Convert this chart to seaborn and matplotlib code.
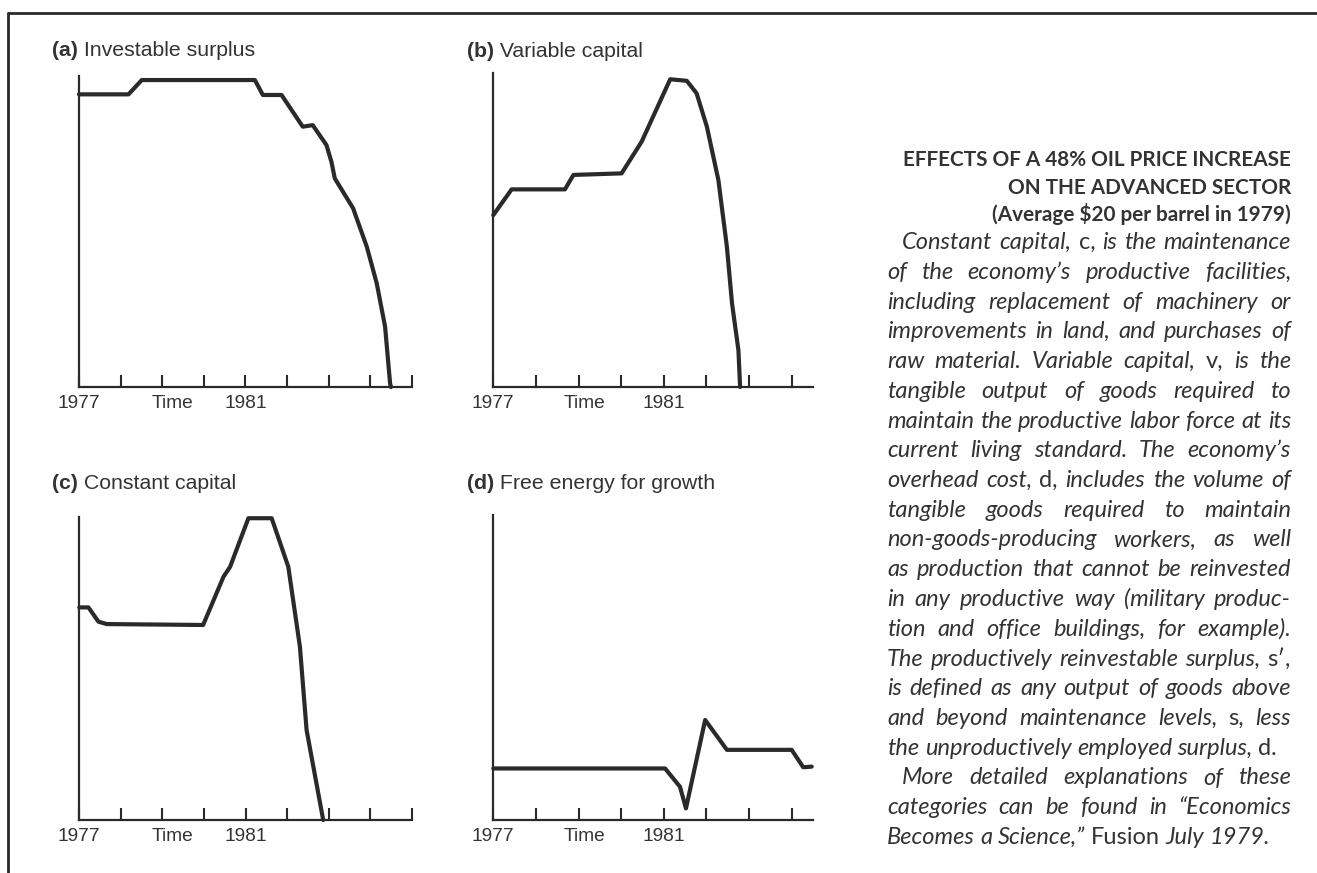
import matplotlib
matplotlib.use("Agg")
import matplotlib.pyplot as plt
import seaborn as sns
import pandas as pd
from matplotlib.lines import Line2D

# ---------------- data ----------------
years_left = [1977, 1978, 1979, 1980, 1981, 1982, 1983, 1984, 1985]
years_right = [1977, 1978, 1979, 1980, 1981, 1982, 1983, 1984]
tick_labels_left = ["1977", "", "", "", "1981", "", "", "", ""]
tick_labels_right = ["1977", "", "", "", "1981", "", "", ""]

a_title = ("(a)", " Investable surplus")
a_year = [1977.0, 1978.19, 1978.51, 1981.23, 1981.42, 1981.87, 1982.38, 1982.62,
          1982.95, 1983.07, 1983.15, 1983.59, 1983.92, 1984.16, 1984.36, 1984.48, 1984.5]
a_value = [94.1, 94.1, 98.7, 98.7, 93.9, 93.9, 83.7, 84.2,
           77.8, 72.4, 67.1, 57.5, 45.1, 33.3, 19.4, 1.2, 0.0]

b_title = ("(b)", " Variable capital")
b_year = [1977.0, 1977.43, 1978.68, 1978.88, 1980.01, 1980.48, 1981.15, 1981.54,
          1981.77, 1982.01, 1982.28, 1982.48, 1982.60, 1982.75, 1982.79]
b_value = [54.8, 63.0, 63.0, 67.6, 68.1, 78.2, 98.1, 97.6,
           93.6, 83.0, 66.0, 44.7, 26.7, 11.8, 0.0]

c_title = ("(c)", " Constant capital")
c_year = [1977.0, 1977.22, 1977.46, 1977.66, 1979.98, 1980.47, 1980.63, 1981.07,
          1981.63, 1982.03, 1982.31, 1982.47, 1982.87]
c_value = [70.1, 70.1, 65.4, 64.6, 64.3, 80.2, 83.5, 99.5,
           99.5, 83.5, 57.1, 29.7, 0.0]

d_title = ("(d)", " Free energy for growth")
d_year = [1977.0, 1981.03, 1981.38, 1981.52, 1981.97, 1982.48, 1984.0, 1984.27, 1984.47]
d_value = [16.9, 16.9, 10.9, 3.8, 32.8, 23.0, 23.0, 17.3, 17.5]

time_label = "Time"

heading_lines = ["EFFECTS OF A 48% OIL PRICE INCREASE",
                 "ON THE ADVANCED SECTOR",
                 "(Average $20 per barrel in 1979)"]

body_lines = [
    "Constant capital, c, is the maintenance",
    "of the economy\u2019s productive facilities,",
    "including replacement of machinery or",
    "improvements in land, and purchases of",
    "raw material. Variable capital, v, is the",
    "tangible output of goods required to",
    "maintain the productive labor force at its",
    "current living standard. The economy\u2019s",
    "overhead cost, d, includes the volume of",
    "tangible goods required to maintain",
    "non-goods-producing workers, as well",
    "as production that cannot be reinvested",
    "in any productive way (military produc-",
    "tion and office buildings, for example).",
    "The productively reinvestable surplus, s\u2032,",
    "is defined as any output of goods above",
    "and beyond maintenance levels, s, less",
    "the unproductively employed surplus, d.",
    "More detailed explanations of these",
    "categories can be found in \u201cEconomics",
    "Becomes a Science,\u201d Fusion July 1979.",
]
indent_lines = [0, 18]
ragged_lines = [17, 20]
roman_words = ["c,", "v,", "d,", "s\u2032,", "s,", "d.", "Fusion"]

# ---------------- style ----------------
sns.set_theme(style="white")
plt.rcParams['font.family'] = ['Liberation Sans', 'DejaVu Sans']
INK = "#2a2a2a"
TXT = "#333333"

W, H = 1317, 873
fig = plt.figure(figsize=(W / 100, H / 100), dpi=100)
fig.patch.set_facecolor("white")
renderer = fig.canvas.get_renderer()


def fx(x):
    return x / W


def fy(y):
    return 1 - y / H


def add_px_axes(l, t, r, b):
    return fig.add_axes([l / W, 1 - b / H, (r - l) / W, (b - t) / H])


def text_w(s, **kw):
    t = fig.text(0, 0, s, **kw)
    w = t.get_window_extent(renderer).width
    t.remove()
    return w


panels = [
    (a_title, a_year, a_value, (79, 76, 411.7, 387), years_left, tick_labels_left, 1985.0, 1979.24, (51.7, 50)),
    (b_title, b_year, b_value, (493.3, 73.3, 813, 387), years_right, tick_labels_right, 1984.5, 1979.15, (466.7, 51.7)),
    (c_title, c_year, c_value, (79.3, 516.7, 411.7, 820), years_left, tick_labels_left, 1985.0, 1979.24, (51.7, 483)),
    (d_title, d_year, d_value, (493.3, 515, 813, 820), years_right, tick_labels_right, 1984.5, 1979.15, (466.7, 483)),
]

TITLE_FS = 15.3
for title, xs, ys, box, ticks, tlabels, xmax, tpos, tloc in panels:
    ax = add_px_axes(*box)
    df = pd.DataFrame({"year": xs, "value": ys})
    sns.lineplot(data=df, x="year", y="value", ax=ax, color=INK, linewidth=3.0,
                 sort=False, estimator=None, clip_on=False)
    ax.set_xlim(1977, xmax)
    ax.set_ylim(0, 100)
    ax.set_facecolor("none")
    ax.set_xlabel("")
    ax.set_ylabel("")
    ax.set_yticks([])
    ax.set_xticks(ticks)
    ax.set_xticklabels(tlabels)
    ax.set_xticks([tpos], minor=True)
    ax.set_xticklabels([time_label], minor=True)
    ax.tick_params(axis="x", which="major", bottom=True, direction="in", length=8.5,
                   width=1.5, color=INK, pad=6, labelsize=13.8, labelcolor=TXT)
    ax.tick_params(axis="x", which="minor", bottom=True, length=0, pad=6,
                   labelsize=13.8, labelcolor=TXT)
    for s in ["top", "right"]:
        ax.spines[s].set_visible(False)
    for s in ["left", "bottom"]:
        ax.spines[s].set_color(INK)
        ax.spines[s].set_linewidth(1.6)
    # panel title: bold letter + plain text
    bold, rest = title
    t1 = fig.text(fx(tloc[0]), fy(tloc[1]), bold, fontsize=TITLE_FS, fontweight="bold",
                  color=TXT, ha="left", va="center")
    wb = t1.get_window_extent(renderer).width
    fig.text(fx(tloc[0] + wb), fy(tloc[1]), rest, fontsize=TITLE_FS, color=TXT,
             ha="left", va="center")

# ---------------- right-hand text block ----------------
HEAD_FONT = ['Lato', 'DejaVu Sans']
BODY_FONT = ['Lato', 'DejaVu Sans']
right_edge = 1291
left_edge = 887
indent = 15

# heading: bold, right aligned, sized so the first line spans ~390 px
w0 = text_w(heading_lines[0], fontsize=13, fontweight="bold", family=HEAD_FONT)
head_fs = 13 * 390 / w0
for i, line in enumerate(heading_lines):
    fig.text(fx(right_edge), fy(160 + i * 27.5 + 6), line, fontsize=head_fs,
             fontweight="bold", family=HEAD_FONT, color=TXT, ha="right", va="baseline")


def word_style(w):
    return "normal" if w in roman_words else "italic"


# choose body size so that every justified line fits its width
body_fs = 19.0
while True:
    sp = text_w("a a", fontsize=body_fs, family=BODY_FONT, style="italic") - \
        text_w("aa", fontsize=body_fs, family=BODY_FONT, style="italic")
    ok = True
    for i, line in enumerate(body_lines):
        words = line.split(" ")
        tot = sum(text_w(w, fontsize=body_fs, family=BODY_FONT, style=word_style(w)) for w in words)
        avail = right_edge - left_edge - (indent if i in indent_lines else 0)
        if tot + sp * 0.9 * (len(words) - 1) > avail:
            ok = False
            break
    if ok:
        break
    body_fs -= 0.25

sp = text_w("a a", fontsize=body_fs, family=BODY_FONT, style="italic") - \
    text_w("aa", fontsize=body_fs, family=BODY_FONT, style="italic")
line_h = (838 - 243) / (len(body_lines) - 1)
for i, line in enumerate(body_lines):
    words = line.split(" ")
    widths = [text_w(w, fontsize=body_fs, family=BODY_FONT, style=word_style(w)) for w in words]
    x0 = left_edge + (indent if i in indent_lines else 0)
    if i in ragged_lines or len(words) == 1:
        gap = sp
    else:
        gap = (right_edge - x0 - sum(widths)) / (len(words) - 1)
    x = x0
    yb = 243 + i * line_h + 6
    for w, wd in zip(words, widths):
        fig.text(fx(x), fy(yb), w, fontsize=body_fs, family=BODY_FONT,
                 style=word_style(w), color=TXT, ha="left", va="baseline")
        x += wd + gap

# frame rules (top and left)
fig.add_artist(Line2D([fx(8), fx(8)], [fy(13), fy(873)], color=INK, linewidth=2.0))
fig.add_artist(Line2D([fx(8), fx(1317)], [fy(13), fy(13)], color=INK, linewidth=2.0))

fig.savefig("out.png", dpi=100, facecolor="white")
